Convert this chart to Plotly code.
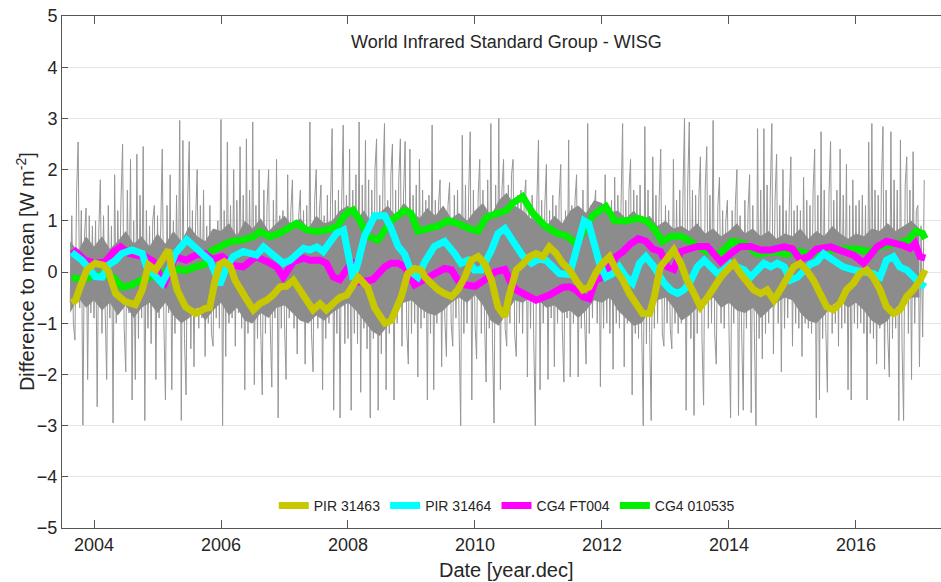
import numpy as np
import plotly.graph_objects as go

# ---------------- data ----------------
# daily differences (grey), sampled every 0.025 yr starting 2003.625
gray_2003 = [-0.6, 1.1, -1.0, -1.33, 1.5, 2.54, -0.7, 1.2, -2.99, 0.7, 1.25, -2.1, 1.1, -0.8, 0.9]
gray_2004 = [-0.9, 1.0, -2.63, 0.8, 1.8, -1.2, 1.1, -0.7, -2.1, 1.3,
             -0.9, 0.9, -2.95, 1.9, -1.0, 1.2, -0.6, 1.4, 2.5, -1.1,
             -1.95, 1.6, -0.8, 2.2, -2.5, 1.0, -2.1, 2.3, -1.3, 1.5,
             -0.9, 2.45, -2.9, 1.2, -1.1, 0.9, -1.4, 1.0, 1.3, -2.1]
gray_2005 = [1.1, -0.9, 0.8, 2.4, -1.0, -2.5, 1.3, -0.8, 1.9, -2.3,
             1.0, -1.2, 1.5, -0.9, 2.96, -2.9, 2.57, -1.3, -2.4, 1.4,
             2.55, -1.5, 1.2, -1.85, 1.0, 2.0, -1.1, 1.3, -0.9, 1.6,
             -1.65, 0.9, -1.0, 1.3, -1.2, -1.45, 0.8, -0.9, 1.0, -1.1]
gray_2006 = [2.98, -3.0, 1.2, -1.65, 2.54, -1.0, 1.3, -0.9, 2.0, -1.45,
             1.4, -0.8, 2.45, -1.1, 1.5, -2.3, 2.6, -1.2, 1.6, -1.0,
             2.93, -2.2, 1.3, -1.3, 2.0, -1.1, -2.4, 1.6, -1.2, 1.3,
             2.0, -1.0, -2.25, 1.4, -0.9, 2.2, -2.85, 1.1, -1.1, 1.2]
gray_2007 = [-1.0, -2.1, 1.9, -0.9, 1.2, 1.8, -1.1, 1.0, -1.6, 1.1,
             1.6, -0.9, 1.2, -1.8, 1.3, -1.0, 2.93, -1.2, -1.95, 1.4,
             2.0, -1.1, 1.2, 1.7, -2.3, 1.1, -1.3, 1.5, -1.0, 1.3,
             2.8, -2.7, 1.4, -1.2, 1.6, -2.85, 1.3, 2.87, -1.4, 1.5]
gray_2008 = [-1.3, 2.4, -2.7, 1.6, -1.2, 1.9, -1.4, 2.93, -2.35, 1.7,
             -1.1, 2.57, -1.5, 1.8, -2.85, 1.6, -1.3, 2.0, 2.6, -2.7,
             1.5, -1.6, 1.8, 2.9, -2.3, 1.4, -1.2, 1.9, 2.5, -2.5,
             1.6, -1.0, 1.8, 2.6, -1.45, 1.5, 2.55, -1.1, -1.8, 2.4]
gray_2009 = [-1.2, 1.5, -1.0, 1.7, -2.05, 2.2, -1.1, 1.6, -0.9, 1.4,
             -2.5, 1.5, -1.2, 2.87, -2.3, 1.4, -1.0, 1.3, 1.8, -1.85,
             1.2, -0.9, -1.65, 1.3, 1.75, -1.0, -1.45, 1.5, -0.9, 1.6,
             -1.1, -3.0, 2.67, -1.2, 1.7, -1.0, 1.5, 2.74, -2.5, 1.6]
gray_2010 = [-1.0, -1.7, 1.5, 2.2, -1.2, 1.6, -0.9, -2.15, 1.8, -1.1,
             2.9, -1.3, -2.95, 1.7, -1.0, 3.0, -2.3, 1.6, 2.2, -1.1,
             -1.45, 1.7, -1.0, 1.9, 2.2, -1.2, -1.65, 1.5, -1.0, 1.6,
             -1.2, 1.4, 1.8, -2.05, 1.3, -1.1, 1.5, -1.3, -3.0, 1.4]
gray_2011 = [2.58, -2.3, 1.4, -1.0, 1.3, 2.1, -2.1, 1.2, -0.9, 1.5,
             -1.85, 1.3, -1.0, 1.4, 2.1, -1.1, -2.15, 1.2, -0.9, 2.58,
             -2.05, 1.3, -1.0, 1.4, 1.9, -2.05, 1.2, -1.1, 1.6, -0.9,
             -1.8, 2.9, -1.2, 1.3, -0.9, 1.2, 1.6, -1.0, 1.1, -2.24]
gray_2012 = [1.2, -1.1, 1.9, -1.0, 1.3, -1.2, 1.4, -1.9, 1.85, -1.0,
             1.5, -1.1, 1.3, 2.9, -1.85, 1.4, -1.0, 1.6, 2.2, -2.4,
             1.6, -1.2, 1.5, -1.3, 1.7, -1.1, -3.0, 2.84, -1.4, 1.6,
             -1.2, -2.9, 2.25, -1.1, 1.5, -1.0, 1.4, 2.4, -1.2, -1.45]
gray_2013 = [1.3, -1.0, 1.2, -1.1, -1.5, 2.2, -1.0, 1.4, -1.2, 1.6,
             -1.0, 1.5, 3.0, -2.7, 1.7, 2.93, -1.3, 1.6, -2.8, 1.5,
             -1.2, 1.4, 2.25, -1.3, -2.6, 1.6, 2.45, -1.1, 1.5, -1.0,
             2.96, -1.2, -1.8, 1.3, 1.85, -1.0, 1.2, -1.1, 1.0, 1.4]
gray_2014 = [-1.1, -2.85, 1.2, -1.0, 1.3, 2.0, -2.8, 1.1, -1.2, -2.7,
             1.4, -1.1, 1.2, 1.9, -2.75, 1.3, -1.2, -3.0, 2.8, -1.3,
             1.6, -1.7, 2.8, -1.2, 1.7, -1.0, 1.5, 2.9, -1.6, 1.4,
             2.3, -1.0, 1.3, -1.95, 2.0, -1.1, 1.2, -0.9, 1.3, 2.25]
gray_2015 = [-1.45, 1.2, -1.0, 1.3, -1.1, 1.2, -1.65, 1.85, -1.0, 1.4,
             -1.1, 1.3, -1.2, 1.6, 2.4, -2.85, 1.5, -2.5, 2.74, -1.3,
             1.6, -1.1, -2.35, 1.5, 2.55, -1.2, 1.4, -1.0, 1.6, -1.45,
             2.4, -1.1, 1.5, -1.0, 2.1, -2.3, 1.3, -2.5, 1.8, -1.0]
gray_2016 = [1.3, -1.1, 1.4, -1.0, 1.5, -1.2, 1.3, -2.5, 2.54, -1.2,
             2.9, -1.3, 1.6, -1.8, 1.5, -1.1, 1.7, 2.84, -1.9, 1.6,
             -1.2, -2.05, 2.74, -1.3, 1.8, -1.1, 1.6, -2.9, 2.58, -1.4,
             -2.9, 1.7, 2.25, -1.2, 1.6, -2.1, 2.35, -1.0, 1.2, 1.3]
gray_2017 = [-1.85, 0.9, -1.27, 1.8]
gray_start = 2003.625
gray_step = 0.025

# dense core of the daily differences (where the grey lines overlap solidly),
# every 0.125 yr starting 2003.625
core_hi = [0.6, 0.4, 0.7,
           0.5, 0.7, 0.45, 0.6, 0.8, 0.55, 0.7, 0.5,
           0.75, 0.55, 0.8, 0.6, 0.9, 0.7, 0.6, 0.85,
           0.8, 0.95, 0.7, 1.0, 0.85, 1.05, 0.8, 0.95,
           1.1, 0.9, 1.05, 0.85, 1.1, 0.95, 1.0, 1.2,
           1.3, 1.0, 1.2, 0.95, 1.15, 1.3, 1.1, 1.35,
           1.2, 1.05, 1.25, 1.1, 1.3, 1.05, 1.15, 1.0,
           1.2, 1.35, 1.1, 1.4, 1.55, 1.3, 1.2, 1.05,
           1.0, 0.9, 1.1, 0.95, 1.2, 1.3, 1.15, 1.4,
           1.35, 1.15, 1.2, 1.05, 1.2, 1.0, 1.1, 0.9,
           1.0, 0.85, 0.9, 0.8, 0.95, 0.75, 0.85, 0.7,
           0.8, 0.95, 0.75, 0.85, 0.7, 0.8, 0.65, 0.75,
           0.7, 0.85, 0.65, 0.8, 0.7, 0.9, 0.75, 0.65,
           0.75, 0.7, 0.85, 0.8, 0.95, 0.8, 0.9, 1.0,
           0.85]
core_lo = [-0.8, -0.5, -0.7,
           -0.55, -0.75, -0.6, -0.85, -0.65, -0.9, -0.7, -0.6,
           -0.8, -0.6, -0.85, -1.0, -0.9, -0.7, -0.95, -0.75,
           -0.6, -0.85, -0.7, -0.95, -1.0, -0.8, -0.9, -0.7,
           -0.65, -0.8, -0.95, -1.0, -0.85, -0.95, -0.8, -0.7,
           -0.6, -0.75, -0.95, -1.15, -1.25, -1.05, -0.8, -0.6,
           -0.55, -0.7, -0.8, -0.85, -0.75, -0.6, -0.5, -0.6,
           -0.45, -0.65, -0.95, -1.05, -0.8, -0.55, -0.6, -0.5,
           -0.55, -0.7, -0.65, -0.8, -0.75, -0.9, -0.75, -0.55,
           -0.6, -0.5, -0.75, -0.9, -1.05, -1.0, -0.75, -0.55,
           -0.5, -0.7, -0.95, -0.85, -0.7, -0.6, -0.5, -0.7,
           -0.6, -0.75, -0.8, -0.7, -0.9, -0.75, -0.6, -0.5,
           -0.55, -0.8, -0.95, -1.0, -0.85, -0.65, -0.55, -0.7,
           -0.6, -0.75, -0.95, -1.05, -0.95, -0.7, -0.6, -0.5,
           -0.5]
core_start = 2003.625
core_step = 0.125

# PIR 31463 (olive/yellow)
pir63_x = [2003.65, 2003.71, 2003.78, 2003.89, 2004.02, 2004.15, 2004.23, 2004.34, 2004.49, 2004.65,
           2004.76, 2004.86, 2004.97, 2005.07, 2005.17, 2005.23, 2005.31, 2005.44, 2005.60, 2005.75,
           2005.82, 2005.90, 2005.98, 2006.05, 2006.15, 2006.22, 2006.30, 2006.41, 2006.51, 2006.61,
           2006.72, 2006.82, 2006.93, 2007.03, 2007.14, 2007.24, 2007.35, 2007.45, 2007.56, 2007.66,
           2007.77, 2007.87, 2007.98, 2008.08, 2008.16, 2008.31, 2008.42, 2008.58, 2008.68, 2008.84,
           2008.94, 2009.05, 2009.15, 2009.21, 2009.31, 2009.42, 2009.52, 2009.63, 2009.73, 2009.84,
           2009.94, 2010.05, 2010.15, 2010.26, 2010.36, 2010.47, 2010.53, 2010.65, 2010.75, 2010.86,
           2010.96, 2011.07, 2011.17, 2011.28, 2011.38, 2011.49, 2011.59, 2011.70, 2011.80, 2011.91,
           2012.01, 2012.12, 2012.22, 2012.33, 2012.43, 2012.53, 2012.64, 2012.75, 2012.82, 2012.92,
           2013.03, 2013.13, 2013.24, 2013.34, 2013.45, 2013.55, 2013.66, 2013.76, 2013.87, 2013.97,
           2014.08, 2014.18, 2014.29, 2014.39, 2014.50, 2014.60, 2014.71, 2014.81, 2014.92, 2015.02,
           2015.12, 2015.22, 2015.33, 2015.43, 2015.54, 2015.64, 2015.75, 2015.85, 2015.96, 2016.06,
           2016.17, 2016.27, 2016.38, 2016.48, 2016.59, 2016.69, 2016.80, 2016.90, 2017.01, 2017.09]
pir63_y = [-0.60, -0.55, -0.30, 0.05, 0.17, 0.13, 0.00, -0.42, -0.58, -0.64,
           -0.35, 0.14, 0.04, 0.23, 0.43, 0.04, -0.35, -0.68, -0.81, -0.71,
           -0.70, -0.20, 0.15, 0.20, 0.10, -0.16, -0.35, -0.55, -0.74, -0.62,
           -0.55, -0.45, -0.29, -0.28, -0.16, -0.35, -0.61, -0.74, -0.62, -0.74,
           -0.61, -0.50, -0.45, -0.25, -0.10, -0.30, -0.70, -1.00, -0.95, -0.48,
           -0.03, 0.07, 0.04, -0.10, -0.22, -0.35, -0.42, -0.48, -0.35, -0.10,
           0.23, 0.30, 0.17, -0.16, -0.68, -0.87, -0.50, 0.04, 0.15, 0.30,
           0.36, 0.30, 0.49, 0.36, 0.17, 0.04, -0.16, -0.35, -0.29, 0.00,
           0.17, 0.30, 0.04, -0.16, -0.42, -0.61, -0.81, -0.81, -0.50, 0.10,
           0.30, 0.43, 0.17, -0.16, -0.42, -0.68, -0.50, -0.29, -0.10, 0.04,
           0.17, -0.03, -0.22, -0.35, -0.42, -0.35, -0.55, -0.35, -0.10, 0.10,
           0.17, 0.04, -0.16, -0.42, -0.68, -0.74, -0.61, -0.35, -0.22, -0.03,
           0.04, -0.10, -0.35, -0.68, -0.81, -0.74, -0.48, -0.35, -0.16, 0.04]

# PIR 31464 (cyan)
pir64_x = [2003.65, 2003.71, 2003.81, 2003.92, 2004.02, 2004.13, 2004.23, 2004.34, 2004.44, 2004.60,
           2004.76, 2004.83, 2004.97, 2005.07, 2005.18, 2005.28, 2005.46, 2005.57, 2005.70, 2005.83,
           2005.92, 2005.98, 2006.09, 2006.19, 2006.35, 2006.46, 2006.56, 2006.67, 2006.77, 2006.88,
           2006.98, 2007.09, 2007.19, 2007.30, 2007.40, 2007.51, 2007.61, 2007.72, 2007.82, 2007.93,
           2008.00, 2008.08, 2008.16, 2008.26, 2008.42, 2008.58, 2008.68, 2008.79, 2008.89, 2009.00,
           2009.10, 2009.21, 2009.36, 2009.52, 2009.68, 2009.78, 2009.89, 2009.99, 2010.10, 2010.26,
           2010.36, 2010.47, 2010.60, 2010.76, 2010.89, 2011.00, 2011.12, 2011.33, 2011.49, 2011.57,
           2011.65, 2011.72, 2011.79, 2011.85, 2011.96, 2012.06, 2012.17, 2012.27, 2012.38, 2012.48,
           2012.59, 2012.69, 2012.82, 2012.98, 2013.08, 2013.19, 2013.29, 2013.40, 2013.50, 2013.61,
           2013.71, 2013.82, 2013.92, 2014.03, 2014.13, 2014.24, 2014.34, 2014.45, 2014.55, 2014.66,
           2014.76, 2014.87, 2014.97, 2015.08, 2015.18, 2015.28, 2015.38, 2015.49, 2015.64, 2015.80,
           2015.96, 2016.12, 2016.27, 2016.38, 2016.48, 2016.59, 2016.69, 2016.80, 2016.90, 2017.01,
           2017.09]
pir64_y = [0.38, 0.33, 0.23, 0.07, -0.09, -0.10, 0.14, 0.23, 0.36, 0.43,
           0.36, 0.10, -0.09, -0.22, 0.04, 0.36, 0.63, 0.49, 0.36, 0.22,
           -0.10, -0.25, 0.10, 0.30, 0.40, 0.36, 0.33, 0.49, 0.40, 0.30,
           0.17, 0.23, 0.36, 0.46, 0.43, 0.49, 0.40, 0.59, 0.76, 0.82,
           0.30, -0.15, 0.20, 0.70, 1.10, 1.10, 0.85, 0.50, 0.35, 0.00,
           -0.10, 0.20, 0.50, 0.60, 0.36, 0.17, 0.23, 0.04, 0.04, 0.43,
           0.75, 0.85, 0.60, 0.30, 0.17, 0.25, 0.23, -0.03, -0.05, 0.30,
           0.75, 1.00, 0.95, 0.63, 0.17, -0.10, -0.03, 0.10, -0.10, -0.22,
           0.17, 0.30, 0.10, -0.22, -0.35, -0.42, -0.35, -0.16, 0.10, 0.23,
           0.10, -0.03, 0.04, 0.17, 0.10, 0.04, -0.10, 0.04, 0.17, 0.10,
           0.17, 0.10, -0.16, -0.10, 0.05, 0.15, 0.20, 0.36, 0.23, 0.10,
           0.04, 0.00, -0.03, -0.10, 0.23, 0.30, 0.10, 0.04, -0.10, -0.22,
           -0.29]

# CG4 FT004 (magenta)
cg4ft_x = [2003.65, 2003.71, 2003.86, 2004.02, 2004.18, 2004.31, 2004.42, 2004.55, 2004.70, 2004.81,
           2004.94, 2005.05, 2005.12, 2005.28, 2005.45, 2005.60, 2005.75, 2005.86, 2006.02, 2006.20,
           2006.35, 2006.55, 2006.73, 2006.88, 2006.98, 2007.14, 2007.30, 2007.40, 2007.56, 2007.66,
           2007.77, 2007.87, 2007.98, 2008.08, 2008.16, 2008.39, 2008.58, 2008.68, 2008.79, 2008.89,
           2009.05, 2009.30, 2009.52, 2009.63, 2009.73, 2009.84, 2010.00, 2010.15, 2010.31, 2010.47,
           2010.56, 2010.65, 2010.86, 2010.96, 2011.17, 2011.28, 2011.38, 2011.49, 2011.59, 2011.70,
           2011.80, 2011.90, 2012.01, 2012.12, 2012.22, 2012.33, 2012.45, 2012.57, 2012.69, 2012.80,
           2012.92, 2013.03, 2013.13, 2013.24, 2013.34, 2013.50, 2013.66, 2013.87, 2014.03, 2014.18,
           2014.34, 2014.50, 2014.66, 2014.87, 2015.00, 2015.12, 2015.25, 2015.38, 2015.60, 2015.80,
           2015.96, 2016.12, 2016.22, 2016.33, 2016.48, 2016.64, 2016.74, 2016.85, 2016.93, 2017.01,
           2017.09]
cg4ft_y = [0.35, 0.40, 0.23, 0.17, 0.20, 0.40, 0.49, 0.36, 0.32, 0.30,
           0.20, -0.10, -0.20, 0.30, 0.23, 0.33, 0.36, 0.25, 0.30, 0.13,
           0.10, 0.30, 0.20, 0.10, -0.10, 0.20, 0.27, 0.23, 0.23, 0.17,
           -0.10, -0.15, 0.05, 0.23, -0.20, -0.15, 0.10, 0.17, 0.17, 0.10,
           -0.25, -0.10, 0.07, 0.04, -0.16, -0.25, -0.28, -0.16, 0.00, 0.05,
           -0.20, -0.35, -0.50, -0.55, -0.45, -0.35, -0.30, -0.29, -0.35, -0.48,
           -0.52, -0.16, -0.10, 0.10, 0.30, 0.40, 0.55, 0.65, 0.60, 0.45,
           0.40, 0.10, 0.05, 0.40, 0.45, 0.50, 0.50, 0.20, 0.36, 0.50,
           0.50, 0.43, 0.43, 0.49, 0.45, 0.25, 0.30, 0.45, 0.49, 0.40,
           0.33, 0.17, 0.30, 0.49, 0.60, 0.56, 0.52, 0.46, 0.56, 0.30,
           0.27]

# CG4 010535 (green)
cg4b_x = [2003.65, 2003.80, 2003.95, 2004.10, 2004.30, 2004.45, 2004.60, 2004.75, 2004.90, 2005.10,
          2005.30, 2005.45, 2005.60, 2005.75, 2005.83, 2005.98, 2006.14, 2006.35, 2006.51, 2006.61,
          2006.77, 2006.93, 2007.09, 2007.19, 2007.35, 2007.51, 2007.66, 2007.82, 2007.98, 2008.08,
          2008.19, 2008.31, 2008.47, 2008.68, 2008.89, 2008.99, 2009.10, 2009.26, 2009.42, 2009.57,
          2009.73, 2009.90, 2010.05, 2010.18, 2010.36, 2010.49, 2010.60, 2010.75, 2010.91, 2011.10,
          2011.30, 2011.45, 2011.60, 2011.70, 2011.85, 2012.06, 2012.20, 2012.40, 2012.55, 2012.70,
          2012.82, 2012.95, 2013.10, 2013.25, 2013.45, 2013.65, 2013.85, 2014.05, 2014.25, 2014.45,
          2014.70, 2014.90, 2015.10, 2015.30, 2015.50, 2015.70, 2016.00, 2016.20, 2016.40, 2016.60,
          2016.80, 2016.95, 2017.05, 2017.09]
cg4b_y = [-0.10, -0.15, -0.10, -0.05, -0.10, -0.30, -0.25, -0.15, -0.10, 0.00,
          0.05, 0.03, 0.10, 0.15, 0.40, 0.49, 0.59, 0.63, 0.69, 0.79,
          0.69, 0.76, 0.89, 0.95, 0.82, 0.79, 0.82, 0.89, 1.15, 1.21,
          1.00, 0.70, 0.62, 1.00, 1.20, 1.15, 0.80, 0.85, 0.90, 1.00,
          0.95, 0.85, 0.80, 1.07, 1.15, 1.20, 1.35, 1.47, 1.15, 0.90,
          0.75, 0.70, 0.55, 0.80, 1.10, 1.28, 1.00, 1.00, 1.05, 1.00,
          0.85, 0.60, 0.70, 0.70, 0.55, 0.40, 0.35, 0.60, 0.55, 0.35,
          0.40, 0.35, 0.40, 0.35, 0.40, 0.45, 0.45, 0.40, 0.50, 0.55,
          0.60, 0.80, 0.75, 0.65]

series_names = ["PIR 31463", "PIR 31464", "CG4 FT004", "CG4 010535"]
x_ticks = [2004, 2006, 2008, 2010, 2012, 2014, 2016]
y_ticks = [-5, -4, -3, -2, -1, 0, 1, 2, 3, 4, 5]

# ---------------- figure ----------------
gray_vals = (gray_2003 + gray_2004 + gray_2005 + gray_2006 + gray_2007 + gray_2008 + gray_2009
             + gray_2010 + gray_2011 + gray_2012 + gray_2013 + gray_2014 + gray_2015 + gray_2016 + gray_2017)
gray_x = gray_start + gray_step * np.arange(len(gray_vals))
core_x = core_start + core_step * np.arange(len(core_hi))

FONT = "Liberation Sans, Arial, Helvetica, sans-serif"
TXT = "#262626"
GREY = "rgb(140,140,140)"

fig = go.Figure()
fig.add_trace(go.Scatter(x=gray_x, y=gray_vals, mode="lines",
                         line=dict(color="rgb(150,150,150)", width=1, simplify=False),
                         showlegend=False, hoverinfo="skip"))
fig.add_trace(go.Scatter(x=core_x, y=core_lo, mode="lines", line=dict(width=0, color=GREY),
                         showlegend=False, hoverinfo="skip"))
fig.add_trace(go.Scatter(x=core_x, y=core_hi, mode="lines", line=dict(width=0, color=GREY),
                         fill="tonexty", fillcolor=GREY, showlegend=False, hoverinfo="skip"))

styles = [
    (cg4b_x, cg4b_y, series_names[3], "#00f000"),
    (cg4ft_x, cg4ft_y, series_names[2], "#ff00ff"),
    (pir64_x, pir64_y, series_names[1], "#00ffff"),
    (pir63_x, pir63_y, series_names[0], "#c8c800"),
]
for xs, ys, name, col in styles:
    fig.add_trace(go.Scatter(x=xs, y=ys, mode="lines", name=name,
                             line=dict(color=col, width=7)))

fig.update_layout(
    width=941, height=582,
    margin=dict(l=62, r=0, t=16, b=54),
    plot_bgcolor="white", paper_bgcolor="white",
    font=dict(family=FONT, color=TXT),
    legend=dict(orientation="h", x=0.506, xanchor="center", y=0.043, yanchor="middle",
                bgcolor="rgba(0,0,0,0)", font=dict(size=14, family=FONT, color=TXT),
                traceorder="reversed", itemwidth=30),
)
fig.update_xaxes(range=[2003.496, 2017.339], tickvals=x_ticks, ticks="inside", ticklen=8,
                 tickcolor="#555", showline=True, linecolor="#555", linewidth=1, mirror="ticks",
                 showgrid=False, zeroline=False, tickfont=dict(size=18, color=TXT))
fig.update_yaxes(range=[-5, 5], tickvals=y_ticks, ticks="inside", ticklen=6,
                 tickcolor="#555", showline=True, linecolor="#555", linewidth=1,
                 showgrid=True, gridcolor="#e6e6e6", zeroline=False,
                 tickfont=dict(size=18, color=TXT))

fig.add_annotation(text="World Infrared Standard Group - WISG", xref="paper", yref="paper",
                   x=0.506, y=0.949, showarrow=False, font=dict(size=18, color=TXT),
                   xanchor="center", yanchor="middle")
fig.add_annotation(text="Date [year.dec]", xref="paper", yref="paper",
                   x=0.506, y=-0.082, showarrow=False, font=dict(size=20, color=TXT),
                   xanchor="center", yanchor="middle")
fig.add_annotation(text="Difference to mean [W m<sup>-2</sup>]", xref="paper", yref="paper",
                   x=-0.042, y=0.5, showarrow=False, textangle=-90,
                   font=dict(size=20, color=TXT), xanchor="center", yanchor="middle")

fig.write_html("out.html")
